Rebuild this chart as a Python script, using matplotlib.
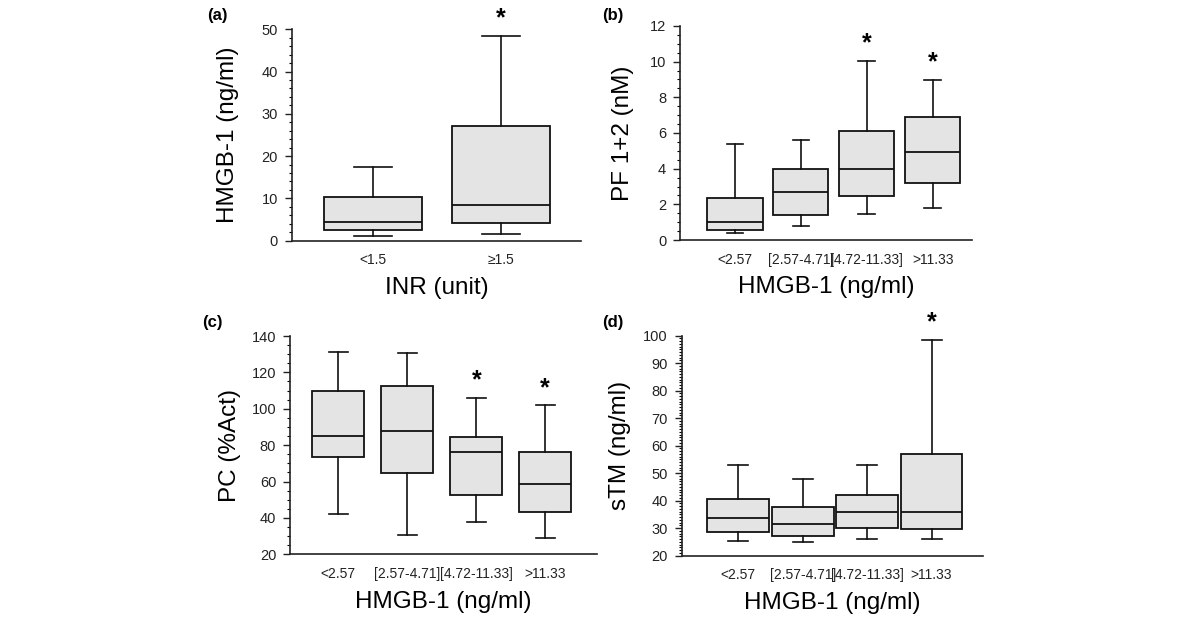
import numpy as np
import matplotlib.pyplot as plt
from matplotlib.ticker import MultipleLocator

plt.rcParams['font.family'] = ['Liberation Sans', 'DejaVu Sans']

# Panel (a): HMGB-1 by INR
a_labels = ['<1.5', '≥1.5']
a_low = [1.2, 1.6]
a_q1 = [2.5, 4.1]
a_med = [4.5, 8.4]
a_q3 = [10.3, 27.1]
a_high = [17.5, 48.3]
a_star = [False, True]

# HMGB-1 groups shared by (b), (c), (d)
hmgb_labels = ['<2.57', '[2.57-4.71]', '[4.72-11.33]', '>11.33']

# Panel (b): PF 1+2
b_low = [0.41, 0.80, 1.44, 1.81]
b_q1 = [0.56, 1.40, 2.47, 3.20]
b_med = [1.03, 2.71, 3.96, 4.92]
b_q3 = [2.36, 3.98, 6.11, 6.88]
b_high = [5.38, 5.60, 10.04, 8.97]
b_star = [False, False, True, True]

# Panel (c): PC
c_low = [42.0, 30.6, 38.0, 29.2]
c_q1 = [73.7, 64.7, 52.4, 43.3]
c_med = [84.9, 87.6, 76.4, 58.5]
c_q3 = [109.6, 112.5, 84.5, 76.2]
c_high = [131.2, 130.7, 106.1, 101.9]
c_star = [False, False, True, True]

# Panel (d): sTM
d_low = [25.5, 25.1, 26.2, 25.9]
d_q1 = [28.5, 27.3, 29.9, 29.6]
d_med = [33.8, 31.6, 35.8, 35.9]
d_q3 = [40.6, 37.6, 42.2, 57.1]
d_high = [53.0, 47.9, 52.8, 98.4]
d_star = [False, False, False, True]


def draw_panel(rect, tag, labels, low, q1, med, q3, high, star,
               ylim, major, minor, xlim, width, capw, ylabel, star_off, ylab_x):
    ax = fig.add_axes(rect)
    stats = []
    for i in range(len(labels)):
        stats.append(dict(whislo=low[i], q1=q1[i], med=med[i],
                          q3=q3[i], whishi=high[i], fliers=[]))
    pos = np.arange(len(labels))
    ax.bxp(stats, positions=pos, widths=width, capwidths=capw,
           patch_artist=True, showfliers=False,
           boxprops=dict(facecolor='#e4e4e4', edgecolor='#111111', linewidth=1.3),
           medianprops=dict(color='#111111', linewidth=1.3),
           whiskerprops=dict(color='#111111', linewidth=1.2),
           capprops=dict(color='#111111', linewidth=1.2))
    for i, s in enumerate(star):
        if s:
            ax.text(pos[i], high[i] + star_off, '*', ha='center', va='bottom',
                    fontsize=18, fontweight='bold')
    ax.set_xlim(*xlim)
    ax.set_ylim(*ylim)
    ax.set_xticks(pos)
    ax.set_xticklabels(labels, fontsize=10, color='#222222')
    ax.yaxis.set_major_locator(MultipleLocator(major))
    ax.yaxis.set_minor_locator(MultipleLocator(minor))
    ax.tick_params(axis='y', labelsize=10.5, colors='#222222', length=5, width=1,
                   pad=5)
    ax.tick_params(axis='y', which='minor', length=2.5, width=0.8)
    ax.tick_params(axis='x', length=0, pad=9)
    for sp in ['top', 'right']:
        ax.spines[sp].set_visible(False)
    for sp in ['left', 'bottom']:
        ax.spines[sp].set_linewidth(1.2)
        ax.spines[sp].set_color('#222222')
    ax.set_ylabel(ylabel, fontsize=17.5)
    ax.yaxis.set_label_coords(ylab_x, 0.5)
    ax.set_xlabel('HMGB-1 (ng/ml)' if tag != '(a)' else 'INR (unit)',
                  fontsize=17.5, labelpad=7)
    return ax


fig = plt.figure(figsize=(12, 6.17), dpi=100)

draw_panel([0.2433, 0.610, 0.2409, 0.3425], '(a)', a_labels, a_low, a_q1, a_med,
           a_q3, a_high, a_star, (0, 50), 10, 2, (-0.633, 1.625), 0.76, 0.3,
           'HMGB-1 (ng/ml)', 1.5, -0.183)
draw_panel([0.5667, 0.611, 0.2430, 0.3469], '(b)', hmgb_labels, b_low, b_q1, b_med,
           b_q3, b_high, b_star, (0, 12), 2, 0.5, (-0.83, 3.59), 0.84, 0.25,
           'PF 1+2 (nM)', 0.3, -0.158)
draw_panel([0.2417, 0.1016, 0.2558, 0.3538], '(c)', hmgb_labels, c_low, c_q1, c_med,
           c_q3, c_high, c_star, (20, 140), 20, 5, (-0.70, 3.75), 0.75, 0.27,
           'PC (%Act)', 3, -0.160)
draw_panel([0.5681, 0.0994, 0.2511, 0.3565], '(d)', hmgb_labels, d_low, d_q1, d_med,
           d_q3, d_high, d_star, (20, 100), 10, 1, (-0.88, 3.8), 0.96, 0.31,
           'sTM (ng/ml)', 2, -0.168)

for x, y, t in [(0.181, 0.975, '(a)'), (0.511, 0.975, '(b)'),
                (0.177, 0.478, '(c)'), (0.511, 0.478, '(d)')]:
    fig.text(x, y, t, fontsize=12, fontweight='bold', ha='center', va='center')

fig.savefig('out.png', dpi=100)
